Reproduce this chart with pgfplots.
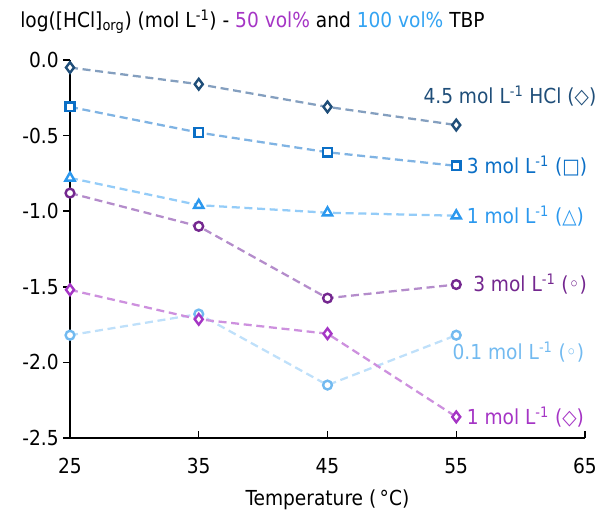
\documentclass[border=0pt]{standalone}
\usepackage{pgfplots}
\pgfplotsset{compat=1.18}
\usepackage{fontspec}
\setmainfont{DejaVu Sans Condensed}
\definecolor{cAline}{HTML}{849FBF}
\definecolor{cAmk}{HTML}{1F4E79}
\definecolor{cBline}{HTML}{7FB3E3}
\definecolor{cBmk}{HTML}{0B6FC6}
\definecolor{cCline}{HTML}{94CCF8}
\definecolor{cCmk}{HTML}{2B98EE}
\definecolor{cDline}{HTML}{BFE0FA}
\definecolor{cDmk}{HTML}{72BAF0}
\definecolor{cEline}{HTML}{B48CCB}
\definecolor{cEmk}{HTML}{74278F}
\definecolor{cFline}{HTML}{CD90DE}
\definecolor{cFmk}{HTML}{A535C5}
\definecolor{tPurple}{HTML}{A535C5}
\definecolor{tBlue}{HTML}{33A3F2}
\begin{document}
\begin{tikzpicture}
\path[use as bounding box] (-52.5pt,-55.5pt) rectangle (397.5pt,328.5pt);
\begin{axis}[
  scale only axis, width=386.25pt, height=283.5pt,
  xmin=25, xmax=65, ymin=-2.5, ymax=0,
  axis lines=left, axis line style={-, line width=1.1pt, black},
  xtick={25,35,45,55,65}, ytick={-2.5,-2,-1.5,-1,-0.5,0},
  tick align=outside, major tick length=5pt,
  tick style={line width=1.1pt, black},
  xtick style={yshift=5pt},
  /pgf/number format/assume math mode=true,
  yticklabel style={/pgf/number format/.cd, fixed, fixed zerofill, precision=1},
  tick label style={font=\fontsize{15.5}{18}\selectfont},
  xticklabel style={yshift=-6.5pt},
  xlabel={Temperature (\,°C)},
  xlabel style={font=\fontsize{15.5}{18}\selectfont, yshift=-5.5pt},
  clip=false,
  every axis plot/.append style={dashed, dash pattern=on 6pt off 3.5pt, line width=1.7pt},
]
\addplot[cAline, mark=diamond*, mark size=4pt, mark options={solid, draw=cAmk, fill=white, line width=1.8pt}]
  coordinates {(25,-0.05) (35,-0.16) (45,-0.31) (55,-0.43)};
\addplot[cBline, mark=square*, mark size=3.3pt, mark options={solid, draw=cBmk, fill=white, line width=1.8pt}]
  coordinates {(25,-0.31) (35,-0.48) (45,-0.61) (55,-0.70)};
\addplot[cCline, mark=triangle*, mark size=4pt, mark options={solid, draw=cCmk, fill=white, line width=1.8pt}]
  coordinates {(25,-0.78) (35,-0.96) (45,-1.01) (55,-1.03)};
\addplot[cEline, mark=*, mark size=3.3pt, mark options={solid, draw=cEmk, fill=white, line width=1.8pt}]
  coordinates {(25,-0.88) (35,-1.10) (45,-1.575) (55,-1.485)};
\addplot[cDline, mark=*, mark size=3.3pt, mark options={solid, draw=cDmk, fill=white, line width=1.8pt}]
  coordinates {(25,-1.82) (35,-1.68) (45,-2.15) (55,-1.82)};
\addplot[cFline, mark=diamond*, mark size=4pt, mark options={solid, draw=cFmk, fill=white, line width=1.8pt}]
  coordinates {(25,-1.52) (35,-1.715) (45,-1.81) (55,-2.36)};
\node[anchor=east, text=cAmk, font=\fontsize{15.5}{18}\selectfont, inner sep=0pt] at (axis cs:65.9,-0.24) {4.5 mol L\textsuperscript{-1} HCl (◇)};
\node[anchor=west, text=cBmk, font=\fontsize{15.5}{18}\selectfont, inner sep=0pt] at (axis cs:55.8,-0.70) {3 mol L\textsuperscript{-1} (□)};
\node[anchor=west, text=cCmk, font=\fontsize{15.5}{18}\selectfont, inner sep=0pt] at (axis cs:55.8,-1.03) {1 mol L\textsuperscript{-1} (△)};
\node[anchor=west, text=cEmk, font=\fontsize{15.5}{18}\selectfont, inner sep=0pt] at (axis cs:56.3,-1.485) {3 mol L\textsuperscript{-1} (◦)};
\node[anchor=west, text=cDmk, font=\fontsize{15.5}{18}\selectfont, inner sep=0pt] at (axis cs:54.7,-1.93) {0.1 mol L\textsuperscript{-1} (◦)};
\node[anchor=west, text=cFmk, font=\fontsize{15.5}{18}\selectfont, inner sep=0pt] at (axis cs:55.8,-2.36) {1 mol L\textsuperscript{-1} (◇)};
\end{axis}
\node[anchor=west, inner sep=0pt, font=\fontsize{15.5}{18}\selectfont] at (-37.5pt,312pt)
  {log([HCl]\textsubscript{org}) (mol L\textsuperscript{-1}) - \textcolor{tPurple}{50 vol\%} and \textcolor{tBlue}{100 vol\%} TBP};
\end{tikzpicture}
\end{document}
